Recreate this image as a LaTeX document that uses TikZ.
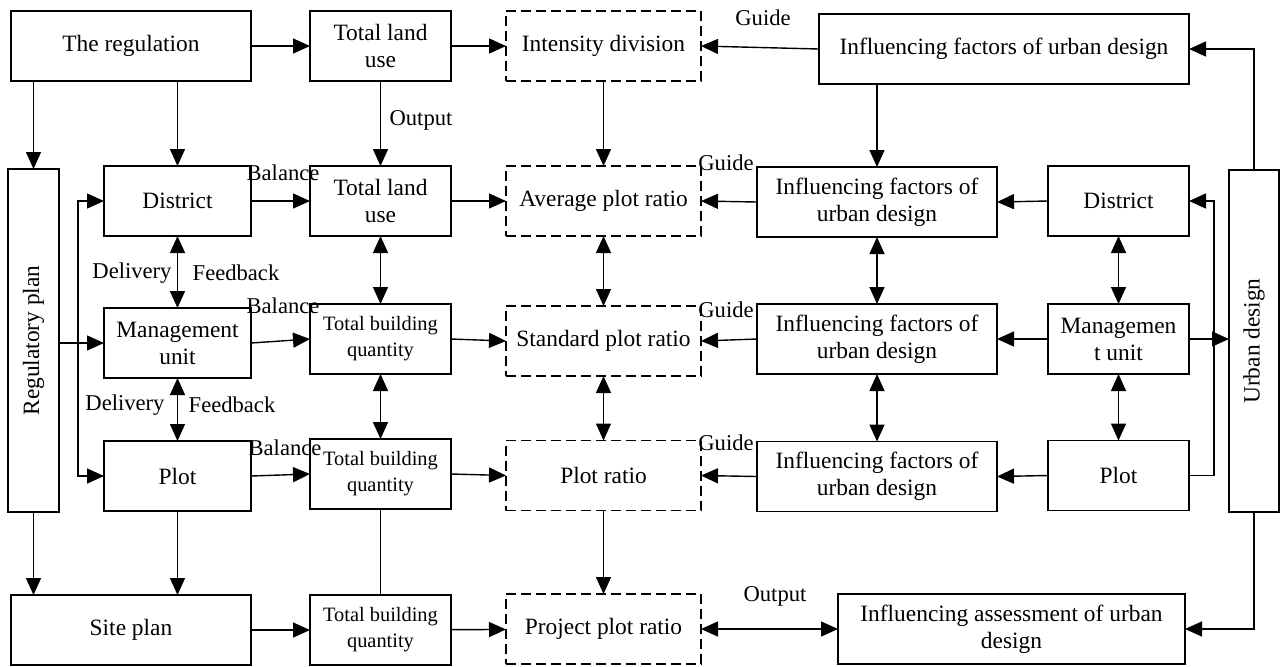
\documentclass[tikz,border=0pt]{standalone}
\usepackage{fontspec}
\setmainfont{Liberation Serif}
\usetikzlibrary{positioning,calc,arrows.meta}

\begin{document}
\begin{tikzpicture}[x=0.5pt,y=-0.5pt,line width=0.7pt,
		every node/.style={outer sep=0pt,inner sep=0pt,font=\fontsize{11.7}{13.5}\selectfont},
		block/.style={draw,align=center,minimum height=35pt},
		ratio/.style={block,dash pattern=on 5pt off 2.5pt,minimum width=97.5pt},
		small/.style={font=\fontsize{10.2}{13}\selectfont},
		note/.style={font=\fontsize{11.3}{13}\selectfont},
		>={Triangle[length=8.5pt,width=7.5pt]},
		]
		\useasboundingbox (0,0) rectangle (1280,666);

		% left column
		\node[block,minimum width=120pt] (reg) at (131,46) {The regulation};
		\node[block,minimum width=25.5pt,minimum height=171.5pt] (regplan) at (33.5,340.5) {\rotatebox{90}{Regulatory plan}};
		\node[block,minimum width=73.5pt] (dist1) at (177.5,201) {District};
		\node[block,minimum width=73.5pt] (mgmt1) at (177.5,343) {Management\\unit};
		\node[block,minimum width=73.5pt] (plot1) at (177.5,476) {Plot};
		\node[block,minimum width=120pt] (site) at (131,630) {Site plan};

		% quantities
		\node[block,minimum width=70.5pt] (tlu1) at (380.5,46) {Total land\\use};
		\node[block,minimum width=70.5pt] (tlu2) at (380.5,201) {Total land\\use};
		\node[block,small,minimum width=70.5pt] (tbq3) at (380.5,339) {Total building\\quantity};
		\node[block,small,minimum width=70.5pt] (tbq4) at (380.5,474) {Total building\\quantity};
		\node[block,small,minimum width=70.5pt] (tbq5) at (380.5,630) {Total building\\quantity};

		% plot ratios
		\node[ratio] (intdiv) at (603.5,46) {Intensity division};
		\node[ratio] (avg) at (603.5,201) {Average plot ratio};
		\node[ratio] (std) at (603.5,341) {Standard plot ratio};
		\node[ratio] (pr) at (603.5,475.5) {Plot ratio};
		\node[ratio] (proj) at (603.5,629) {Project plot ratio};

		% urban design side
		\node[block,minimum width=185pt] (inftop) at (1004,49) {Influencing factors of urban design};
		\node[block,minimum width=120pt] (inf2) at (877,202) {Influencing factors of\\urban design};
		\node[block,minimum width=120pt] (inf3) at (877,339) {Influencing factors of\\urban design};
		\node[block,minimum width=120pt] (inf4) at (877,476.5) {Influencing factors of\\urban design};
		\node[block,minimum width=173.5pt] (infass) at (1011.5,629) {Influencing assessment of urban\\design};
		\node[block,minimum width=70.5pt] (dist2) at (1118.5,201) {District};
		\node[block,minimum width=70.5pt] (mgmt2) at (1118.5,339) {Managemen\\t unit};
		\node[block,minimum width=70.5pt] (plot2) at (1118.5,475.5) {Plot};
		\node[block,minimum width=25pt,minimum height=171pt] (urban) at (1254,341) {\rotatebox{90}{Urban design}};

		% labels
		\node[note] (bal1) at (283,173) {Balance};
		\node[note] (bal2) at (283,306) {Balance};
		\node[note] (bal3) at (285,448) {Balance};
		\node[note] (gd1) at (763,18) {Guide};
		\node[note] (gd2) at (726,163) {Guide};
		\node[note] (gd3) at (726,310) {Guide};
		\node[note] (gd4) at (726,443) {Guide};
		\node[note] (out1) at (421,120) {Output};
		\node[note] (out2) at (775,596) {Output};
		\node[note] (del1) at (132,273) {Delivery};
		\node[note] (fb1) at (236,273) {Feedback};
		\node[note] (del2) at (125,405) {Delivery};
		\node[note] (fb2) at (232,405) {Feedback};

		\coordinate (lb) at ([xshift=-13pt]mgmt1.west);
		\coordinate (rb) at ([xshift=12.5pt]plot2.east);

		% top row
		\draw[->] (reg) -- (tlu1);
		\draw[->] (tlu1) -- (intdiv);
		\draw[->] (inftop.west) -- (intdiv.east);
		\draw[->] (urban.north) |- (inftop.east);
		\draw[->] (regplan.north |- reg.south) -- (regplan.north);
		\draw[->] (dist1.north |- reg.south) -- (dist1.north);
		\draw[->] (tlu1) -- (tlu2);
		\draw[->] (intdiv) -- (avg);
		\draw[->] (inf2.north |- inftop.south) -- (inf2.north);

		% district row
		\draw[->] (dist1) -- (tlu2);
		\draw[->] (tlu2) -- (avg);
		\draw[->] (inf2.west) -- (avg.east);
		\draw[->] (dist2.west) -- (inf2.east);

		% management row
		\draw[->] (regplan.east |- mgmt1.west) -- (mgmt1.west);
		\draw[->] (lb) |- (dist1.west);
		\draw[->] (lb) |- (plot1.west);
		\draw[->] (mgmt1.east) -- (tbq3.west);
		\draw[->] (tbq3.east) -- (std.west);
		\draw[->] (inf3.west) -- (std.east);
		\draw[->] (mgmt2.west) -- (inf3.east);
		\draw[->] (mgmt2.east) -- (mgmt2.east -| urban.west);

		% plot row
		\draw[->] (plot1.east) -- (tbq4.west);
		\draw[->] (tbq4.east) -- (pr.west);
		\draw[->] (inf4.west) -- (pr.east);
		\draw[->] (plot2.west) -- (inf4.east);
		\draw[->] (plot2.east) -- (rb) |- (dist2.east);

		% two-way links
		\draw[<->] (dist1) -- (mgmt1);
		\draw[<->] (mgmt1) -- (plot1);
		\draw[<->] (tlu2) -- (tbq3);
		\draw[<->] (tbq3) -- (tbq4);
		\draw[<->] (avg) -- (std);
		\draw[<->] (std) -- (pr);
		\draw[<->] (inf2) -- (inf3);
		\draw[<->] (inf3) -- (inf4);
		\draw[<->] (dist2) -- (mgmt2);
		\draw[<->] (mgmt2) -- (plot2);

		% bottom row
		\draw[->] (regplan.south) -- (regplan.south |- site.north);
		\draw[->] (plot1.south) -- (plot1.south |- site.north);
		\draw (tbq4) -- (tbq5);
		\draw[->] (pr) -- (proj);
		\draw[->] (site) -- (tbq5);
		\draw[->] (tbq5) -- (proj);
		\draw[<->] (proj) -- (infass);
		\draw[->] (urban.south) |- (infass.east);
\end{tikzpicture}
\end{document}
